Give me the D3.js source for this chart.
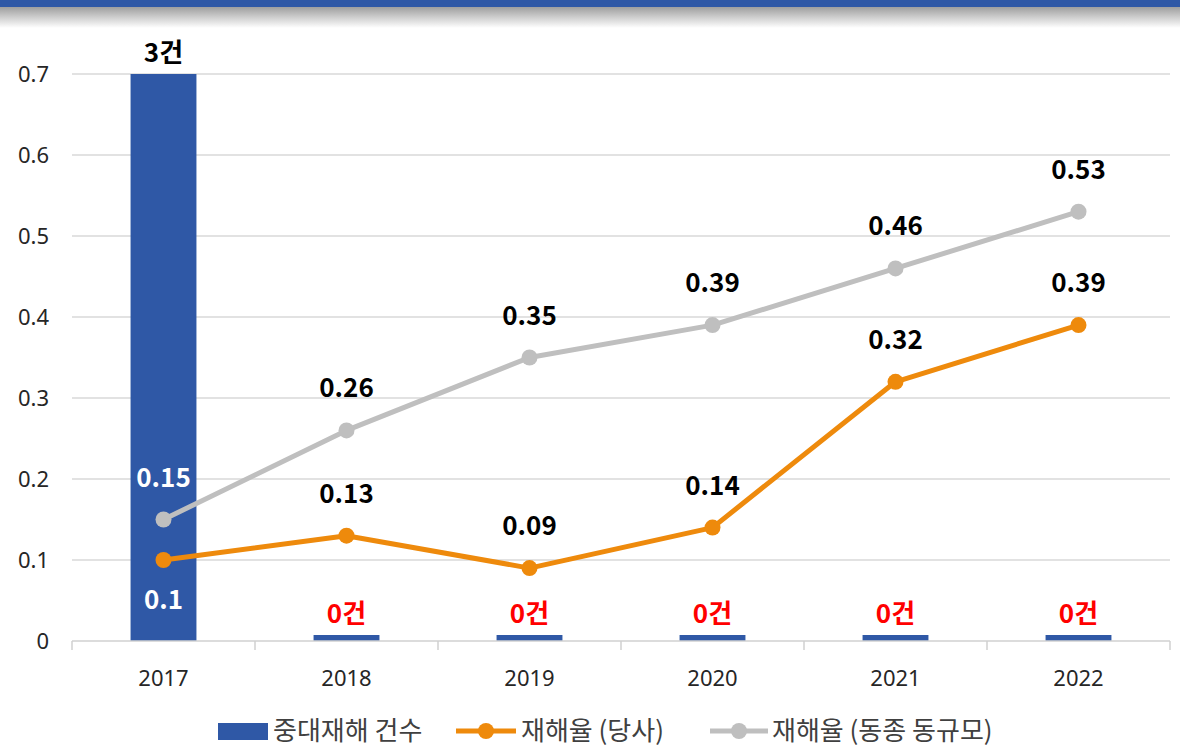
<!DOCTYPE html>
<html><head><meta charset="utf-8">
<script src="https://cdn.jsdelivr.net/npm/d3@7"></script>
<style>body{margin:0;background:#fff;}svg{display:block;font-family:"Noto Sans CJK KR","Noto Sans",sans-serif;}</style>
</head><body>
<svg id="c" width="1180" height="748"></svg>
<script>
const years = ["2017","2018","2019","2020","2021","2022"];
const accidentCounts = [3,0,0,0,0,0];
const rateCompany = [0.1,0.13,0.09,0.14,0.32,0.39];
const rateIndustry = [0.15,0.26,0.35,0.39,0.46,0.53];
const yTicks = [0,0.1,0.2,0.3,0.4,0.5,0.6,0.7];
const legendLabels = ["중대재해 건수","재해율 (당사)","재해율 (동종 동규모)"];

const svg = d3.select("#c");
const W=1180,H=748;
const m={l:72,r:10,t:74,b:107};
const x=d3.scaleBand().domain(years).range([m.l,W-m.r]);
const y=d3.scaleLinear().domain([0,0.7]).range([H-m.b,m.t]);
const yBar=d3.scaleLinear().domain([0,3]).range([H-m.b,m.t]);
const blue="#2f58a6", orange="#ee8a0c", gray="#bfbfbf";

// top band
const defs=svg.append("defs");
const g=defs.append("linearGradient").attr("id","sh").attr("x1",0).attr("y1",0).attr("x2",0).attr("y2",1);
g.append("stop").attr("offset",0).attr("stop-color","#9a9a9a");
g.append("stop").attr("offset",1).attr("stop-color","#ffffff");
svg.append("rect").attr("x",0).attr("y",6).attr("width",W).attr("height",22).attr("fill","url(#sh)");
svg.append("rect").attr("x",0).attr("y",0).attr("width",W).attr("height",7).attr("fill","#2f58a6");

// grid
svg.append("g").selectAll("line").data(yTicks.filter(d=>d>0)).join("line")
 .attr("x1",m.l).attr("x2",W-m.r).attr("y1",d=>y(d)).attr("y2",d=>y(d))
 .attr("stroke","#d9d9d9").attr("stroke-width",1.5);
// y labels
svg.append("g").selectAll("text").data(yTicks).join("text")
 .attr("x",49).attr("y",d=>y(d)).attr("dy","0.35em").attr("text-anchor","end")
 .attr("font-size",22).attr("fill","#262626").attr("font-family","'Noto Sans',sans-serif")
 .text(d=>d3.format("")(d));

// bars
const bw=x.bandwidth()*0.36;
svg.append("g").selectAll("rect").data(accidentCounts).join("rect")
 .attr("x",(d,i)=>x(years[i])+x.bandwidth()/2-bw/2).attr("width",bw)
 .attr("y",d=>Math.min(yBar(d),y(0)-6)).attr("height",d=>Math.max(y(0)-yBar(d),6))
 .attr("fill",blue);

// x axis
const xa=svg.append("g").attr("transform",`translate(0,${y(0)})`);
xa.append("line").attr("x1",m.l).attr("x2",W-m.r).attr("stroke","#d0d0d0").attr("stroke-width",1.5);
const bounds=years.map(d=>x(d)).concat([W-m.r]);
xa.selectAll("line.t").data(bounds).join("line").attr("class","t")
 .attr("x1",d=>d).attr("x2",d=>d).attr("y1",0).attr("y2",9).attr("stroke","#d0d0d0").attr("stroke-width",1.5);
xa.selectAll("text").data(years).join("text")
 .attr("x",d=>x(d)+x.bandwidth()/2).attr("y",45).attr("text-anchor","middle")
 .attr("font-size",22).attr("fill","#262626").attr("font-family","'Noto Sans',sans-serif").text(d=>d);

// bar labels
svg.append("g").selectAll("text").data(accidentCounts).join("text")
 .attr("x",(d,i)=>x(years[i])+x.bandwidth()/2)
 .attr("y",d=>Math.min(yBar(d),y(0)-6)-12)
 .attr("text-anchor","middle").attr("font-size",26).attr("font-weight","bold")
 .attr("fill",d=>d>0?"#000":"#ff0000").text(d=>d+"건");

// lines
const cx=(i)=>x(years[i])+x.bandwidth()/2;
const line=d3.line().x((d,i)=>cx(i)).y(d=>y(d));
function series(vals,col){
 svg.append("path").datum(vals).attr("d",line).attr("fill","none").attr("stroke",col).attr("stroke-width",5).attr("stroke-linejoin","round");
 svg.append("g").selectAll("circle").data(vals).join("circle")
  .attr("cx",(d,i)=>cx(i)).attr("cy",d=>y(d)).attr("r",8).attr("fill",col);
}
series(rateIndustry,gray);
series(rateCompany,orange);

// labels
svg.append("g").selectAll("text").data(rateIndustry).join("text")
 .attr("x",(d,i)=>cx(i)).attr("y",d=>y(d)-33).attr("text-anchor","middle")
 .attr("font-size",26).attr("font-weight","bold").attr("fill",(d,i)=>i===0?"#fff":"#000").text(d=>d);
svg.append("g").selectAll("text").data(rateCompany).join("text")
 .attr("x",(d,i)=>cx(i)).attr("y",(d,i)=>i===0?y(d)+49:y(d)-33).attr("text-anchor","middle")
 .attr("font-size",26).attr("font-weight","bold").attr("fill",(d,i)=>i===0?"#fff":"#000").text(d=>d);

// legend
const lg=svg.append("g").attr("transform","translate(0,731)");
lg.append("rect").attr("x",218).attr("y",-8).attr("width",50).attr("height",17).attr("fill",blue);
lg.append("text").attr("x",273).attr("y",0).attr("dy","0.35em").attr("font-size",26).attr("fill","#404040").text(legendLabels[0]);
lg.append("line").attr("x1",456).attr("x2",516).attr("stroke",orange).attr("stroke-width",5);
lg.append("circle").attr("cx",486).attr("r",8).attr("fill",orange);
lg.append("text").attr("x",521).attr("y",0).attr("dy","0.35em").attr("font-size",26).attr("fill","#404040").text(legendLabels[1]);
lg.append("line").attr("x1",710).attr("x2",768).attr("stroke",gray).attr("stroke-width",5);
lg.append("circle").attr("cx",739).attr("r",8).attr("fill",gray);
lg.append("text").attr("x",772).attr("y",0).attr("dy","0.35em").attr("font-size",26).attr("fill","#404040").text(legendLabels[2]);
</script>
</body></html>
